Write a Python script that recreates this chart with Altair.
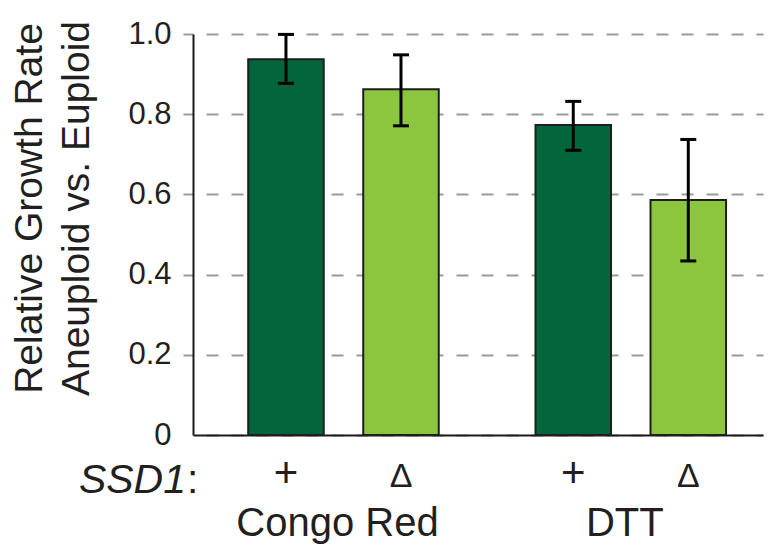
import altair as alt
import pandas as pd

# ---- data ----
treatments = ["Congo Red", "Congo Red", "DTT", "DTT"]
ssd1 = ["+", "Δ", "+", "Δ"]
growth = [0.937, 0.862, 0.773, 0.586]
err_low = [0.877, 0.771, 0.710, 0.434]
err_high = [0.999, 0.948, 0.832, 0.737]
group_labels = ["Congo Red", "DTT"]
ssd_order = ["+", "Δ"]
y_ticks = [0, 0.2, 0.4, 0.6, 0.8, 1.0]
y_title = ["Relative Growth Rate", "Aneuploid vs. Euploid"]
gene_label = ["SSD1"]
colon_label = [":"]

df = pd.DataFrame({
    "treatment": treatments,
    "ssd": ssd1,
    "growth": growth,
    "lo": err_low,
    "hi": err_high,
})
groups_df = pd.DataFrame({"treatment": group_labels})
gene_df = pd.DataFrame({"label": gene_label})
colon_df = pd.DataFrame({"label": colon_label})

FONT = "Liberation Sans"
INK = "#231f20"
DARK = "#03663a"
LIGHT = "#8cc63f"

x_enc = alt.X(
    "treatment:N",
    sort=group_labels,
    scale=alt.Scale(paddingInner=0.1, paddingOuter=0.042, align=0.878),
    axis=alt.Axis(title=None, labels=False, ticks=False, grid=False,
                  domainColor="#1a1a1a", domainWidth=2),
)
xo_enc = alt.XOffset(
    "ssd:N",
    sort=ssd_order,
    scale=alt.Scale(paddingInner=0.3435, paddingOuter=0.2957),
)

y_axis = alt.Axis(
    values=y_ticks,
    labelExpr="datum.value == 0 ? '0' : format(datum.value, '.1f')",
    labelFont=FONT, labelFontSize=31, labelColor=INK, labelPadding=12,
    tickSize=10, tickWidth=2,
    tickColor={"condition": {"test": "datum.value == 0", "value": "transparent"}, "value": "#9a9a9a"},
    domainColor="#1a1a1a", domainWidth=2,
    grid=True, gridColor="#9a9a9a", gridWidth=2, gridDash=[12, 13], gridDashOffset=12,
    title=y_title, titleFont=FONT, titleFontSize=39, titleFontWeight="normal",
    titleColor=INK, titleLineHeight=47, titleX=-152, titleY=174,
    titleAngle=-90, titleAlign="center", titleBaseline="alphabetic",
)
y_scale = alt.Scale(domain=[0, 1], nice=False)

base = alt.Chart(df)

bars = base.mark_bar(stroke="#1e1e1e", strokeWidth=2).encode(
    x=x_enc,
    xOffset=xo_enc,
    y=alt.Y("growth:Q", scale=y_scale, axis=y_axis),
    color=alt.Color("ssd:N", scale=alt.Scale(domain=ssd_order, range=[DARK, LIGHT]), legend=None),
)

err = base.mark_rule(color="black", strokeWidth=3).encode(
    x=x_enc, xOffset=xo_enc,
    y=alt.Y("lo:Q", scale=y_scale),
    y2="hi:Q",
)
cap_lo = base.mark_tick(color="black", size=16, thickness=3, opacity=1).encode(
    x=x_enc, xOffset=xo_enc, y=alt.Y("lo:Q", scale=y_scale),
)
cap_hi = base.mark_tick(color="black", size=16, thickness=3, opacity=1).encode(
    x=x_enc, xOffset=xo_enc, y=alt.Y("hi:Q", scale=y_scale),
)

ssd_text = base.mark_text(font=FONT, color=INK, baseline="alphabetic", align="center").encode(
    x=x_enc, xOffset=xo_enc,
    y=alt.value(453),
    text="ssd:N",
    size=alt.Size("ssd:N", scale=alt.Scale(domain=ssd_order, range=[42, 34]), legend=None),
)

group_text = alt.Chart(groups_df).mark_text(
    font=FONT, fontSize=40, color=INK, baseline="alphabetic", align="center", dx=-6
).encode(
    x=x_enc,
    y=alt.value(502),
    text="treatment:N",
)

gene_text = alt.Chart(gene_df).mark_text(
    font=FONT, fontSize=41, fontStyle="italic", color=INK, baseline="alphabetic", align="right"
).encode(x=alt.value(-7), y=alt.value(459), text="label:N")

colon_text = alt.Chart(colon_df).mark_text(
    font=FONT, fontSize=41, color=INK, baseline="alphabetic", align="left"
).encode(x=alt.value(-6), y=alt.value(459), text="label:N")

chart = alt.layer(
    bars, err, cap_lo, cap_hi, ssd_text, group_text, gene_text, colon_text
).properties(
    width=570,
    height=401,
    autosize=alt.AutoSizeParams(type="none"),
    padding={"left": 185, "top": 26, "right": 3, "bottom": 112},
    background="white",
).configure_view(stroke=None)

chart.save("out.html", embed_options={"renderer": "svg", "actions": False})
